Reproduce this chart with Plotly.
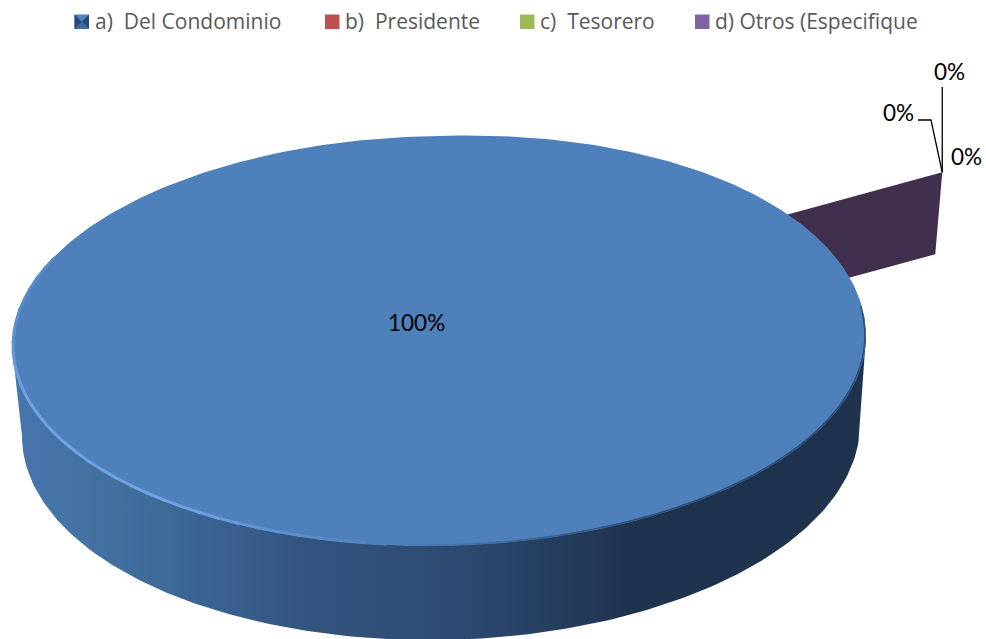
import numpy as np
import plotly.graph_objects as go

# Survey shares
categories = ["a)  Del Condominio", "b)  Presidente", "c)  Tesorero", "d) Otros (Especifique"]
values = [100, 0, 0, 0]
swatch_colors = ["#4F81BD", "#C0504D", "#9BBB59", "#8064A2"]
legend_x = [74.5, 325, 520, 695]
LABEL_FONT = "Lato"
LEGEND_FONT = "Open Sans"

# Pie projection: (cx, cy, rx, ry, tilt)
TOP = (439, 341, 427, 205, 5)
BOTTOM = (441, 430, 419, 210, 6)
BULGE = 4.5
EXPLODE = (128, -66.5)
WALL_DROP = (-7, 82)
WALL_COLOR = "#40304D"
TOP_COLOR = "#4E80BC"
SIDE_DARK = "#1F334E"

SIDE_STOPS = [(0.0, "#4676AD"), (0.12, "#42709F"), (0.22, "#3B6494"), (0.337, "#345581"),
              (0.513, "#2D4B72"), (0.68, "#223958"), (0.72, SIDE_DARK), (1.0, SIDE_DARK)]


def rim(deg, p, bulge=0.0):
    """Point on a projected circle; bulge pushes out the far right quadrant."""
    a = np.radians(deg)
    cx, cy, rx, ry, tilt = p
    y = cy + ry * np.sin(a) - tilt * np.cos(a)
    far_right = (np.sin(a) < 0) & (np.cos(a) > 0)
    return cx + rx * np.cos(a), y - bulge * np.abs(np.sin(2 * a)) * far_right


def mix(c1, c2, t):
    a = [int(c1[i:i + 2], 16) for i in (1, 3, 5)]
    b = [int(c2[i:i + 2], 16) for i in (1, 3, 5)]
    return "rgb(%d,%d,%d)" % tuple(round(x + (y - x) * t) for x, y in zip(a, b))


fig = go.Figure()
total = sum(values)
spans = [360 * v / total for v in values]
START = -28.5
slice_starts = [START + sum(spans[:i]) for i in range(len(values))]

# Wall of the pulled-out empty slice, behind the main body
rx_, ry_ = rim(np.array(slice_starts[-1]), TOP)
rim_x, rim_y = rx_ + EXPLODE[0], ry_ + EXPLODE[1]
hub_x, hub_y = TOP[0] + EXPLODE[0], TOP[1] + EXPLODE[1]
fig.add_trace(go.Scatter(
    x=[hub_x, rim_x, rim_x + WALL_DROP[0], hub_x + WALL_DROP[0]],
    y=[hub_y, rim_y, rim_y + WALL_DROP[1], hub_y + WALL_DROP[1]],
    mode="lines", fill="toself", fillcolor=WALL_COLOR, line=dict(width=0), hoverinfo="skip"))

# Side wall with a horizontal shade
lower = np.linspace(0, 180, 181)
bx, by = rim(lower, BOTTOM)
tx, ty = rim(np.array([180.0, 0.0]), TOP)
fig.add_trace(go.Scatter(
    x=np.concatenate([[tx[1]], bx, [tx[0]]]),
    y=np.concatenate([[ty[1]], by, [ty[0]]]),
    mode="lines", fill="toself", line=dict(width=0), hoverinfo="skip",
    fillgradient=dict(type="horizontal", colorscale=[list(s) for s in SIDE_STOPS])))

# Top face of the full slice
sweep = np.linspace(slice_starts[0], slice_starts[0] + spans[0], 361)
fx, fy = rim(sweep, TOP, BULGE)
fig.add_trace(go.Scatter(x=fx, y=fy, mode="lines", fill="toself", fillcolor=TOP_COLOR,
                         line=dict(width=0), hoverinfo="skip"))

# Bevel along the front of the rim: soft dark edge on the right, light edge on the left
EDGE_DARK = mix(SIDE_DARK, TOP_COLOR, 0.35)
for d in np.arange(-8, 203, 3.0):
    arc = np.linspace(d, d + 3.5, 4)
    ax_, ay_ = rim(arc, (TOP[0], TOP[1], TOP[2] - 1, TOP[3] - 1, TOP[4]), BULGE)
    if d < 95:
        col, width = EDGE_DARK, 1.5
        if d > 60:
            col = mix("#2F4E73", TOP_COLOR, (d - 60) / 35)
    else:
        rise = min(1.0, (d - 95) / 30)
        fall = 1.0 if d < 165 else max(0.3, (200 - d) / 35)
        col, width = mix(TOP_COLOR, "#6EA2E2", rise * fall), 3.0
    fig.add_trace(go.Scatter(x=ax_, y=ay_, mode="lines", line=dict(color=col, width=width),
                             hoverinfo="skip"))

# Leader lines of the empty slices
LEADERS = [([rim_x, rim_x], [rim_y, 87]), ([rim_x, 931, 918], [rim_y, 120, 120])]
for lx, ly in LEADERS:
    fig.add_trace(go.Scatter(x=lx, y=ly, mode="lines", line=dict(color="black", width=1.3), hoverinfo="skip"))

# Percent labels
label_pos = [(416.5, 322), (949, 71.5), (898, 112.5), (966.5, 156)]
label_order = [0, 3, 2, 1]
for i, (px, py) in zip(label_order, label_pos):
    fig.add_annotation(x=px, y=py, text=f"{values[i] / total:.0%}", showarrow=False,
                       font=dict(family=LABEL_FONT, size=22.5, color="black"))

# Legend row
SW = 14.5
for x0, name, col in zip(legend_x, categories, swatch_colors):
    fig.add_shape(type="rect", x0=x0, x1=x0 + SW, y0=14.5, y1=29, fillcolor=col, line_width=0)
    fig.add_annotation(x=x0 + SW + 3.5, y=21, text=name, showarrow=False, xanchor="left",
                       font=dict(family=LEGEND_FONT, size=21, color="#595959"))
# Pyramid facets of the first swatch
lx0 = legend_x[0]
mx, my = lx0 + SW / 2, 21.75
facets = [(f"M{lx0},14.5 L{mx},{my} L{lx0},29 Z", "#264A75"),
          (f"M{lx0 + SW},14.5 L{mx},{my} L{lx0 + SW},29 Z", "#264A75"),
          (f"M{lx0},29 L{mx},{my} L{lx0 + SW},29 Z", "#3E6A9C")]
for path, shade in facets:
    fig.add_shape(type="path", path=path, fillcolor=shade, line_width=0)

fig.update_layout(
    width=986, height=639, margin=dict(l=0, r=0, t=0, b=0), showlegend=False,
    paper_bgcolor="white", plot_bgcolor="white",
    xaxis=dict(range=[0, 986], visible=False, fixedrange=True),
    yaxis=dict(range=[639, 0], visible=False, fixedrange=True),
)
fig.write_html("out.html", config={"displayModeBar": False})
